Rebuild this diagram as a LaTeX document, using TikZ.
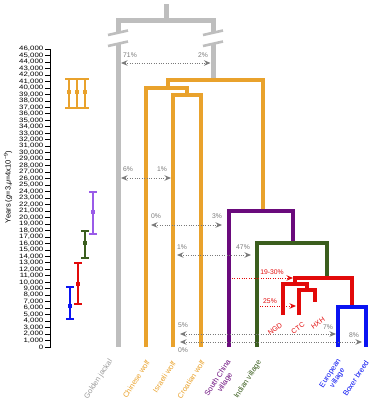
\documentclass[tikz,border=0pt]{standalone}
\usepackage{fontspec}
\setmainfont{Liberation Sans}
\usetikzlibrary{arrows.meta}
\definecolor{jgray}{HTML}{BEBEBE}
\definecolor{wor}{HTML}{E9A22C}
\definecolor{dpur}{HTML}{6A0A7C}
\definecolor{lpur}{HTML}{9A5BE8}
\definecolor{dgrn}{HTML}{3B5E1E}
\definecolor{rred}{HTML}{E20A0A}
\definecolor{bblu}{HTML}{0A14F2}
\definecolor{agray}{HTML}{7A7A7A}
\definecolor{lgray}{HTML}{9A9A9A}
\begin{document}
\begin{tikzpicture}[x=1pt,y=-1pt,
 br/.style={line width=4.2pt, line join=miter, line cap=butt},
 gbr/.style={line width=5pt, draw=jgray, line join=miter},
 slash/.style={line width=2.6pt, draw=jgray},
 mig/.style={agray, line width=0.9pt, dash pattern=on 1pt off 1.4pt, arrows={Stealth[length=6.5pt,width=5.5pt,inset=2.2pt]-Stealth[length=6.5pt,width=5.5pt,inset=2.2pt]}},
 migr/.style={rred, line width=0.9pt, dash pattern=on 1pt off 1.4pt, arrows={-Stealth[length=6.5pt,width=5.5pt,inset=2.2pt]}},
 pct/.style={font=\fontsize{6.8}{7}\selectfont, text=agray, inner sep=0pt},
 pctr/.style={font=\fontsize{6.8}{7}\selectfont, text=rred, inner sep=0pt},
 tip/.style={font=\fontsize{7.5}{8.5}\selectfont, rotate=57, anchor=east, inner sep=0pt, align=center},
 sub/.style={font=\fontsize{7}{8}\selectfont, rotate=35, text=rred, inner sep=0pt},
 eb/.style={line width=1.1pt},
 ebm/.style={minimum size=3.4pt, inner sep=0pt, draw=none},
 tick/.style={font=\fontsize{6.3}{6.3}\selectfont, anchor=east, inner sep=0pt},
]
\useasboundingbox (0,0) rectangle (378,408);

% ---------- axis ----------
\draw[line width=0.6pt] (50.5,347) -- (50.5,49);
\foreach \i in {0,...,46} {
  \pgfmathsetmacro\yy{347-\i*6.478}
  \draw[line width=0.6pt] (45,\yy) -- (50.5,\yy);
  \node[tick] (t\i) at (43.5,\yy) {\scalebox{1.25}[1]{\ifnum\i=0 0\else\i,000\fi}};
}
\node[rotate=90, font=\fontsize{7.5}{8}\selectfont, inner sep=0pt] (ylab) at (8,187)
  {Years (\textit{g}=3,\textit{μ}=4x10\textsuperscript{−9})};

% ---------- error bars ----------
\draw[eb,wor] (65,79) -- (89,79) (65,108) -- (89,108)
  (69,79) -- (69,108) (77,79) -- (77,108) (85,79) -- (85,108);
\node[ebm,fill=wor] (mo1) at (69,92) {};
\node[ebm,fill=wor] (mo2) at (77,92) {};
\node[ebm,fill=wor] (mo3) at (85,92) {};
\draw[eb,lpur] (89,192) -- (97,192) (89,234) -- (97,234) (93,192) -- (93,234);
\node[ebm,fill=lpur] (mp) at (93,212) {};
\draw[eb,dgrn] (81,231) -- (89,231) (81,258) -- (89,258) (85,231) -- (85,258);
\node[ebm,fill=dgrn] (mg) at (85,243) {};
\draw[eb,rred] (74,263) -- (82,263) (74,304) -- (82,304) (78,263) -- (78,304);
\node[ebm,fill=rred] (mr) at (78,284) {};
\draw[eb,bblu] (66,287) -- (74,287) (66,319) -- (74,319) (70,287) -- (70,319);
\node[ebm,fill=bblu] (mb) at (70,306) {};

% ---------- gray tree ----------
\draw[gbr] (166,4) -- (166,20);
\draw[gbr] (118,33) -- (118,20) -- (213,20) -- (213,33);
\draw[gbr] (118,44) -- (118,347);
\draw[gbr] (213,44) -- (213,78);
\draw[slash] (108,35) -- (128,30.5);
\draw[slash] (108,46) -- (128,41.5);
\draw[slash] (203,35) -- (223,30.5);
\draw[slash] (203,46) -- (223,41.5);

% ---------- orange (wolves) ----------
\draw[br,wor] (168,88) -- (168,80) -- (263,80) -- (263,211);
\draw[br,wor] (146,347) -- (146,88) -- (187,88) -- (187,95);
\draw[br,wor] (173,347) -- (173,95) -- (201,95) -- (201,347);

% ---------- purple ----------
\draw[br,dpur] (229,347) -- (229,211) -- (293,211) -- (293,243);
% ---------- green ----------
\draw[br,dgrn] (257,347) -- (257,243) -- (327,243) -- (327,278);
% ---------- red ----------
\draw[br,rred] (295,284) -- (295,278) -- (352,278) -- (352,307);
\draw[br,rred] (283,315) -- (283,284) -- (307,284) -- (307,290);
\draw[br,rred] (299,315) -- (299,290) -- (315,290) -- (315,302);
% ---------- blue ----------
\draw[br,bblu] (338,347) -- (338,307) -- (366,307) -- (366,347);

% ---------- migration arrows ----------
\coordinate (a1l) at (121,63);  \coordinate (a1r) at (210.5,63);
\coordinate (a2l) at (121,178); \coordinate (a2r) at (171,178);
\coordinate (a3l) at (151,225); \coordinate (a3r) at (222,225);
\coordinate (a4l) at (177,255); \coordinate (a4r) at (251,255);
\coordinate (a5l) at (180,334); \coordinate (a5r) at (336,334);
\coordinate (a6l) at (180,342); \coordinate (a6r) at (362,342);
\coordinate (r1l) at (232,278); \coordinate (r1r) at (293,278);
\coordinate (r2l) at (260,306); \coordinate (r2r) at (296,306);
\draw[mig] (a1l) -- (a1r);
\draw[mig] (a2l) -- (a2r);
\draw[mig] (a3l) -- (a3r);
\draw[mig] (a4l) -- (a4r);
\draw[mig] (a5l) -- (a5r);
\draw[mig] (a6l) -- (a6r);
\draw[migr] (r1l) -- (r1r);
\draw[migr] (r2l) -- (r2r);

\node[pct] (p1) at (130,55) {71\%};
\node[pct] (p2) at (203,55) {2\%};
\node[pct] (p3) at (128,169) {6\%};
\node[pct] (p4) at (162,169) {1\%};
\node[pct] (p5) at (156,216) {0\%};
\node[pct] (p6) at (217,216) {3\%};
\node[pct] (p7) at (182,247) {1\%};
\node[pct] (p8) at (243,247) {47\%};
\node[pct] (p9) at (183,325) {5\%};
\node[pct] (p10) at (183,350) {0\%};
\node[pct] (p11) at (328,327) {7\%};
\node[pct] (p12) at (354,335) {8\%};
\node[pctr] (p13) at (272,272) {19-30\%};
\node[pctr] (p14) at (270,301) {25\%};

% ---------- sub-lineage labels ----------
\node[sub] (ngd) at (275,329) {NGD};
\node[sub] (ctc) at (298,328) {CTC};
\node[sub] (hxh) at (318,323) {HXH};

% ---------- tip labels ----------
\node[tip, text=lgray] (lj) at (111,360) {Golden jackal};
\node[tip, text=wor] (lc) at (148,361) {Chinese wolf};
\node[tip, text=wor] (li) at (174,362) {Israeli wolf};
\node[tip, text=wor] (lr) at (203,361) {Croatian wolf};
\node[tip, text=dpur] (ls) at (233,363) {South China\\village};
\node[tip, text=dgrn] (ld) at (260,361) {Indian village};
\node[tip, text=bblu] (le) at (343,362) {European\\village};
\node[tip, text=bblu] (lb) at (367,361) {Boxer breed};
\end{tikzpicture}
\end{document}
